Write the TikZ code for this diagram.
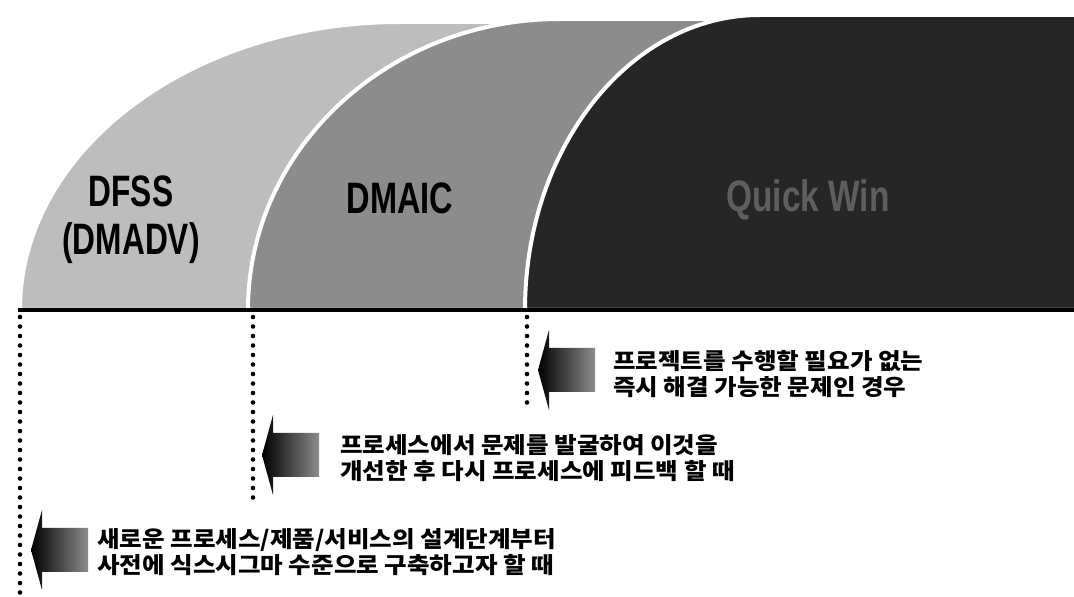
\documentclass[tikz,border=0pt]{standalone}
\usepackage{fontspec}
\newfontfamily\kr{Noto Sans CJK KR}[FakeStretch=1.09]
\newfontfamily\lab{Liberation Sans}
\definecolor{dfss}{HTML}{BDBDBD}
\definecolor{dmaic}{HTML}{8C8C8C}
\definecolor{qwin}{HTML}{262626}
\definecolor{qwtext}{HTML}{5E5E5E}
\tikzset{
  region/.style={draw=white, line width=4pt},
  phase/.style={font=\lab\bfseries\fontsize{44}{48}\selectfont, inner sep=0pt, align=center},
  desc/.style={font=\kr\bfseries\fontsize{22.5}{26}\selectfont, align=left, anchor=west, inner sep=0pt},
  guide/.style={line width=4.6pt, dash pattern=on 0pt off 9.5pt, line cap=round},
  larrow/.pic={\shade[left color=black, middle color=black!85, right color=black!45]
     (0,0) -- (11,40) -- (11,22) -- (57,22) -- (57,-22) -- (11,-22) -- (11,-40) -- cycle;}
}
\begin{document}
\begin{tikzpicture}[x=1pt,y=1pt]
\useasboundingbox (0,0) rectangle (1074,597);
\fill[white] (0,0) rectangle (1074,597);
% regions
\path[region, fill=dfss] (20,287) arc[start angle=180,end angle=90,x radius=380pt,y radius=288pt] -- (1080,575) -- (1080,287) -- cycle;
\path[region, fill=dmaic] (248,287) arc[start angle=180,end angle=90,x radius=312pt,y radius=291pt] -- (1080,578) -- (1080,287) -- cycle;
\path[region, fill=qwin] (525,287) arc[start angle=180,end angle=90,x radius=235pt,y radius=295pt] -- (1080,582) -- (1080,287) -- cycle;
% labels
\node[phase] (dfss) at (131,376) {\scalebox{0.72}[1]{\begin{tabular}{@{}c@{}}DFSS\\(DMADV)\end{tabular}}};
\node[phase] (dmaic) at (400,399) {\scalebox{0.74}[1]{DMAIC}};
\node[phase, text=qwtext] (qw) at (808,397) {\scalebox{0.76}[1]{Quick Win}};
% baseline
\coordinate (bl) at (18,287);
\coordinate (br) at (1080,287);
\draw[line width=4.5pt] (bl) -- (br);
% guides
\coordinate (g1a) at (20,280); \coordinate (g1b) at (20,0);
\coordinate (g2a) at (253,280); \coordinate (g2b) at (253,92);
\coordinate (g3a) at (527,280); \coordinate (g3b) at (527,186);
\draw[guide] (g1a) -- (g1b);
\draw[guide] (g2a) -- (g2b);
\draw[guide] (g3a) -- (g3b);
% arrows
\pic (a1) at (538,227) {larrow};
\pic (a2) at (262,142) {larrow};
\pic (a3) at (31,47) {larrow};
% descriptions
\node[desc] (t1) at (613,223) {프로젝트를 수행할 필요가 없는\\즉시 해결 가능한 문제인 경우};
\node[desc] (t2) at (340,139) {프로세스에서 문제를 발굴하여 이것을\\개선한 후 다시 프로세스에 피드백 할 때};
\node[desc] (t3) at (97,45) {새로운 프로세스/제품/서비스의 설계단계부터\\사전에 식스시그마 수준으로 구축하고자 할 때};
\end{tikzpicture}
\end{document}
